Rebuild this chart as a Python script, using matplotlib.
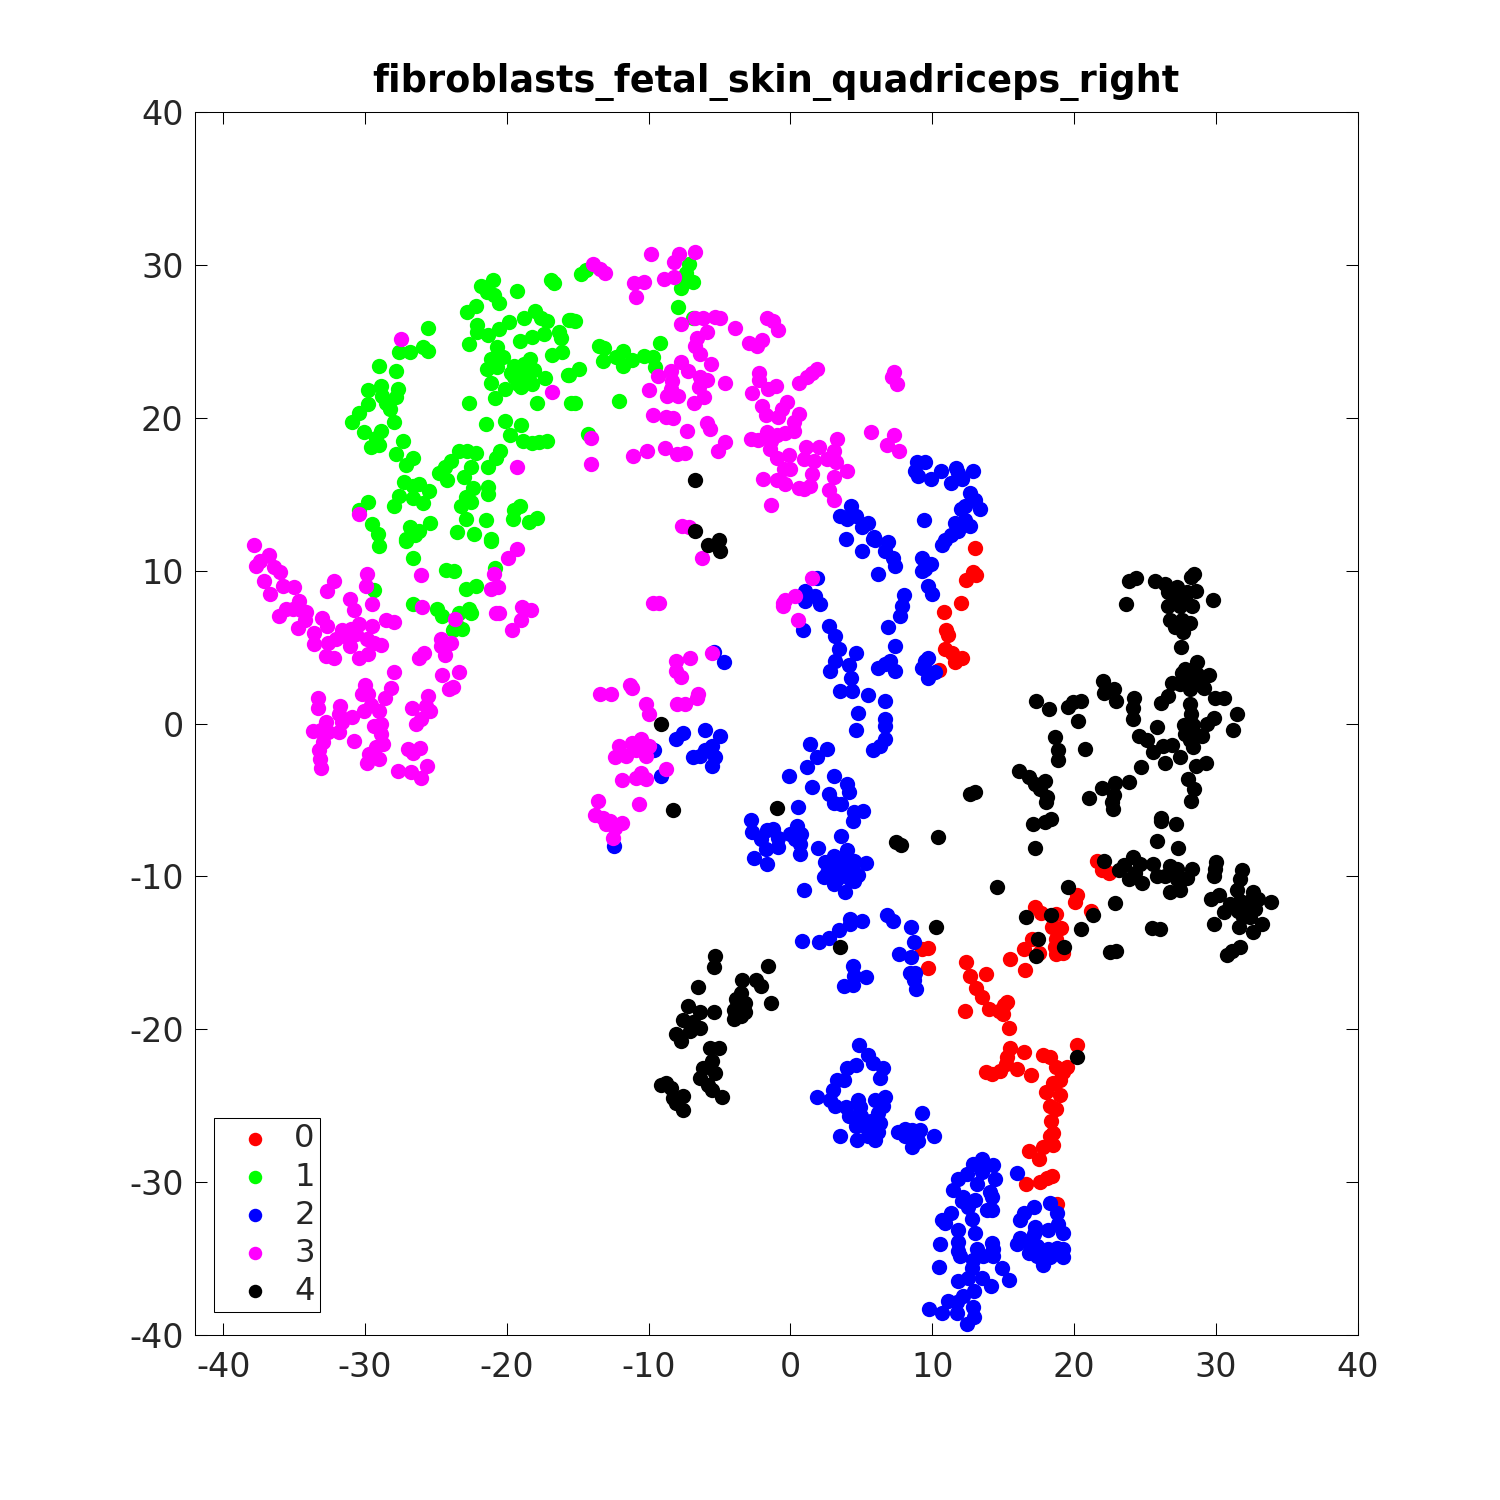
import matplotlib
matplotlib.use("Agg")
import matplotlib.pyplot as plt
import numpy as np

plt.rcParams["axes.unicode_minus"] = False

title = "fibroblasts_fetal_skin_quadriceps_right"
labels = ["0", "1", "2", "3", "4"]
colors = ["#ff0000", "#00ff00", "#0000ff", "#ff00ff", "#000000"]
ticks = [-40, -30, -20, -10, 0, 10, 20, 30, 40]

cluster_0 = [
(13,11.5),(12.9,9.9),(13.1,9.7),(12.4,9.4),(12,7.9),(10.8,7.3),(11,6.1),(11.1,5.8),(10.9,4.9),(11.4,4.6),(12.1,4.3),(11.6,4),(10.5,3.5),
(21.6,-9),(21.95,-9.6),(22.45,-9.75),(20.2,-11.2),(20.1,-11.65),(21.2,-12.25),(17.25,-12),(17.65,-12.4),(18.7,-12.45),(18.45,-13.3),(19.1,-13.4),(18.75,-14.1),(18.65,-14.65),(19.25,-15),(17.05,-14.1),(16.45,-14.75),(17.5,-15),(15.5,-15.4),(16.55,-16.15),(18.75,-15.05),
(9.3,-14.75),(9.7,-14.7),(9.7,-16),(12.4,-15.6),(12.7,-16.5),(13.8,-16.4),(13.1,-17.3),(13.5,-17.9),(12.3,-18.8),(14,-18.7),(14.7,-18.8),(15.1,-18.4),(15.3,-18.2),(15,-19),(15.4,-19.9),
(20.2,-21),(15.5,-21.2),(15.3,-21.8),(16.5,-21.5),(17.8,-21.7),(18.3,-21.8),(15.2,-22.3),(14.8,-22.7),(16,-22.6),(13.8,-22.8),(14.2,-22.9),(17,-23),(18.7,-22.5),(19.2,-22.8),(19.5,-22.5),(19,-23.3),(18.5,-23.5),(18,-24.1),(19,-24.3),(18.3,-25),(18.7,-25.2),(18.4,-26),(18.5,-26.8),(18.3,-26.95),(18.5,-27.6),(17.85,-27.7),(16.8,-27.95),(17.5,-28.5),(16.65,-30.15),(17.6,-30),(18.45,-29.6),(18.1,-29.7),(18.8,-31.4),
]

cluster_1 = [
(-21,29),(-21.8,28.65),(-21.4,28.2),(-20.9,28),(-20.55,27.5),(-19.3,28.3),(-16.9,29),(-16.7,28.8),(-22.2,27.3),(-22.8,26.9),(-22.1,26.1),(-22.1,25.6),(-22.7,24.8),(-21.3,25.4),(-20.55,25.8),(-19.85,26.25),(-20.7,24.65),(-18.8,26.5),(-18,27),(-17.6,26.5),(-17.15,26.35),(-19.1,25.05),(-18.2,25.3),(-16.3,25.6),(-16.2,25.2),(-16.1,24.3),(-16.8,24.1),(-15.6,26.4),(-17.4,25.5),(-20.3,24),(-21.15,23.85),(-21.4,23.2),(-20.7,23.35),(-21.1,22.3),(-20.1,21.9),(-20.85,21.3),(-22.7,21),(-17.9,21),(-15.5,21),(-17.3,22.6),(-15.7,22.8),
(-19.5,23.4),(-18.8,23.5),(-18.4,23.85),(-18.1,23.1),(-19.5,22.65),(-18.8,22.65),(-18.2,22.2),(-19,22),(-19.7,22.9),(-19.25,22.2),(-19,23.1),(-18.55,22.9),
(-21.45,19.6),(-20.1,19.8),(-19,19.55),(-19.75,18.9),(-18.85,18.5),(-18.2,18.35),(-17.2,18.5),(-17.7,18.4),
(-25.6,25.9),(-25.95,24.6),(-25.6,24.4),(-26.8,24.3),(-27.6,24.3),(-29,23.4),(-27.8,23.05),(-28.9,22.1),(-27.65,21.9),(-29.8,21.8),(-28.8,21.45),(-27.8,21.35),(-29.8,20.9),(-28.5,21),(-28.25,20.6),(-30.4,20.3),(-30.9,19.7),(-27.95,19.7),(-30.1,19.1),(-28.9,19.15),(-29.25,18.7),(-29.6,18.1),(-29,18.2),(-27.3,18.5),(-27.8,17.6),(-26.6,17.35),(-27.1,16.9),(-22.2,17.7),(-22.8,17.85),(-23.4,17.85),(-23.95,17.2),(-24.4,16.8),(-24.8,16.4),(-24.2,15.9),(-22.5,16.8),(-23,16.1),(-22.4,15.4),(-21.35,15.5),(-21.35,15),(-21.3,16.8),(-20.8,17.4),(-20.5,17.8),
(-27.25,15.8),(-26.2,15.7),(-26.65,15.55),(-25.5,15.2),(-27.6,14.9),(-26.65,14.75),(-25.95,14.4),(-27.95,14.2),(-29.8,14.5),(-30.4,14),(-22.9,14.8),(-23.25,14.2),(-22.9,13.4),(-22.55,14.5),(-21.45,13.3),(-19.1,14.2),(-19.6,13.35),(-19.5,14),(-17.85,13.45),(-18.45,13.2),(-29.5,13.05),(-29.1,12.4),(-25.4,13.1),(-26.8,12.85),(-26.2,12.6),(-27.1,12.1),(-26.5,12.3),(-23.5,12.5),(-22.3,12.4),(-21.15,12.1),
(-29,11.6),(-27.15,11.95),(-21.15,11.95),(-26.6,10.85),(-24.3,10.05),(-23.75,9.95),(-20.85,10.2),(-22.9,8.8),(-22.15,9),(-29.4,8.75),(-26.6,7.8),(-24.9,7.5),(-24.55,7.05),(-22.65,7.5),(-22.55,7.2),(-23.35,7.2),(-23.8,6.1),(-23.15,6.2),(-23.6,6.5),
(-14.8,29.4),(-14.45,29.7),(-7.15,30.05),(-7.4,29.5),(-6.9,28.85),(-7.7,28.5),(-7.3,29),(-7.9,27.25),(-6.9,26.55),(-15.45,26.4),(-15.2,26.3),(-13.5,24.7),(-13.15,24.55),(-13.2,23.7),(-12.3,23.95),(-11.8,24.4),(-11.8,23.4),(-11.15,23.75),(-10.35,24.05),(-9.7,24),(-9.2,24.9),(-9.55,23.3),(-14.9,23.2),(-15.65,22.8),(-15.2,21),(-12.1,21.1),(-14.3,18.95),
]

cluster_2 = [
(4.3,14.25),(3.5,13.55),(4,13.4),(4.6,13.6),(5.05,12.85),(5.5,13.1),(3.9,12.1),(5.9,12.2),(6.9,11.9),
(8.9,17.1),(9.5,17.1),(9,16.2),(9.9,16),(8.8,16.5),(10.6,16.55),(11.7,16.7),(12.9,16.55),(11.3,15.75),(12.1,16),(11.85,16.4),(12.7,15.1),(12.3,14.25),(13,14.6),(13.4,14.05),(12,14.05),(9.4,13.3),(11.6,13.1),(12.3,13.3),(11.85,12.6),(12.7,12.95),(10.9,12),(11.3,12.3),(10.7,11.65),
(6,12),(5.05,11.3),(5.85,12.1),(6.7,11.3),(7.2,10.8),(6.2,9.8),(7.4,10.3),(9.3,10.8),(9.5,10.1),(9.3,10),(9.9,10.45),(9.7,9),(10,8.5),(8,8.4),(7.9,7.7),(7.75,7.05),(6.85,6.3),(7.4,5.1),(6.7,3.9),(6.15,3.65),(7.05,4.1),(7.4,3.45),(9.5,4.1),(9.7,4.3),(9.3,3.6),(9.7,3),(10.2,3.35),
(1.9,9.5),(1.05,8.7),(1.75,8.35),(1.05,8),(2.1,7.85),(.9,6.15),(2.7,6.4),(3.15,5.75),(3.4,4.9),(4.6,4.6),(3.15,4.1),(2.8,3.45),(4.1,3.8),(4.25,3),(4.35,2.15),(3.5,2.15),(4.8,.7),(5.5,1.85),(6.7,1.5),(4.6,-.45),(6.7,.3),(6.7,-.15),(6.7,-1),(6.35,-1.45),(5.85,-1.75),
(-5.4,4.7),(-4.7,4.05),(-9.65,-1.75),(-9.1,-3.45),(-12.45,-8),(-8.1,-1),(-7.55,-.65),(-6,-.45),(-4.95,-.8),(-6.85,-2.2),(-6.35,-2.1),(-6,-1.75),(-5.5,-1.45),(-5.5,-2.75),(-5.3,-2.2),
(1.4,-1.35),(2.6,-1.65),(1.85,-2.2),(1.2,-2.85),(-.1,-3.45),(1.55,-4.15),(3.1,-3.45),(4,-3.95),(4.15,-4.5),(2.75,-4.6),(3.05,-5.2),(3.55,-5.25),(.55,-5.45),(4.45,-5.8),(5.15,-5.75),(4.4,-6.35),
(-2.8,-6.3),(-2.7,-7.1),(-2.1,-7.55),(-1.65,-6.95),(-1.2,-6.9),(-.85,-7.5),(-1.75,-8.2),(-.85,-8.1),(-2.6,-8.8),(-1.65,-9.2),(0,-7.2),(.45,-6.7),(.75,-7.25),(.35,-7.55),(.7,-7.85),(.65,-8.55),
(1.95,-8.15),(3.6,-7.35),(4,-8.3),(2.45,-9.05),(3.05,-8.65),(3.75,-8.85),(4.45,-9),(5.3,-9.15),(2.8,-9.5),(3.4,-9.2),(4.1,-9.4),(4.8,-9.9),(2.35,-10.05),(3.05,-10.5),(3.65,-9.85),(4.2,-10.15),(3.05,-9.95),(3.85,-11),(.95,-10.9),(3.3,-8.9),(3.6,-9.5),(4.4,-9.6),(2.6,-9.8),(3.3,-10.2),(4.5,-10.3),(2.9,-9.1),
(.8,-14.25),(2.05,-14.3),(2.7,-14),(3.4,-13.5),(4.2,-12.8),(4.2,-13.1),(5.05,-12.9),(6.8,-12.5),(7.2,-12.95),(8.5,-13.3),(8.7,-14.3),(7.65,-15.05),(8.5,-15.3),(8.4,-16.3),(8.8,-16.3),(8.7,-16.8),(8.85,-17.35),(4.4,-15.85),(4.45,-16.5),(5.35,-16.55),(3.75,-17.15),(4.4,-17.1),
(4.85,-21.05),(5.5,-21.7),(5.85,-22.2),(6.55,-22.55),(6.35,-23.2),(4.6,-22.35),(4,-22.55),(3.75,-23.35),(3.3,-23.35),(3,-24),(1.9,-24.45),(2.8,-24.65),(3.15,-25),(3.9,-25.1),(4.8,-24.65),(4.9,-25.1),(6,-24.65),(6.7,-24.45),(4.1,-25.65),(4.95,-25.65),(6.2,-25.45),(6.5,-25),(4.6,-26.3),(5.65,-26),(6.35,-26.1),(3.5,-27),(4.7,-27.25),(5.5,-26.95),(6,-27.25),(6.2,-26.75),(5.3,-26.4),
(7.6,-26.75),(8.1,-26.5),(8.6,-26.6),(9.15,-26.6),(9.3,-25.5),(8.1,-26.95),(8.6,-27.7),(9,-27.3),(10.1,-26.95),
(13.5,-28.5),(12.9,-28.8),(14.3,-28.9),(13.5,-29.35),(12.45,-29.45),(11.85,-29.8),(14.4,-29.8),(13.15,-30.15),(11.5,-30.5),(14.05,-30.65),(14.2,-30.95),(12.2,-31),(13.05,-31.2),(12.1,-31.25),(12.55,-31.6),(13.85,-31.8),(14.2,-31.8),(11.3,-32),(10.7,-32.45),(10.9,-32.7),(12.8,-32.4),(11.85,-33.15),(13.05,-33.35),(11.85,-33.9),(10.55,-34.05),(14.2,-33.95),(11.8,-34.5),(11.95,-34.8),(13.15,-34.4),(14.3,-34.35),(14.3,-34.85),(13.6,-34.85),(12.85,-35.1),(10.5,-35.55),(12.8,-35.6),(14.9,-35.6),(15.4,-36.4),(13.5,-36.3),(14.15,-36.8),(11.8,-36.5),(12.55,-36.3),(12.95,-37.1),(12.2,-37.45),(11.15,-37.8),(9.75,-38.3),(10.7,-38.55),(11.75,-38.55),(12.9,-38.15),(12.95,-38.85),(12.45,-39.3),(11.75,-37.85),
(16,-29.4),(18.3,-31.35),(17.2,-31.6),(18.8,-32),(16.5,-32.05),(16.2,-32.5),(18.9,-32.75),(17.25,-32.95),(18.2,-33.1),(19.2,-33.3),(17.15,-33.4),(16.2,-33.65),(16,-34.05),(16.8,-34),(17.4,-34.15),(16.8,-34.65),(17.4,-34.8),(18.2,-34.4),(18.8,-34.3),(19.2,-34.4),(19.2,-34.9),(17.85,-35.4),(18.3,-34.9),
]

cluster_3 = [
(-37.85,11.65),(-36.75,11.05),(-37.45,10.65),(-37.7,10.3),(-36.4,10.25),(-36,9.9),(-37.15,9.35),(-35.8,9),(-35,8.9),(-36.7,8.5),(-34.65,8),(-35.6,7.5),(-36.1,7.05),(-35.1,7.5),(-34.2,7.3),(-34.25,6.8),(-34.75,6.25),(-34.5,7.4),(-32.2,9.35),(-32.7,8.7),(-33.05,6.9),(-32.7,6.35),(-33.6,5.9),(-33.6,5.2),(-32.6,5.25),(-32.05,5.55),(-31.6,6.1),(-31,6.2),(-30.4,6.5),(-31.25,5.65),(-30.65,5.85),(-31.1,5.1),(-31.1,8.15),(-30.75,7.4),(-29.85,9.75),(-29.95,9),(-29.5,7.8),(-29.5,6.4),(-28.55,6.8),(-27.95,6.65),(-29.85,5.5),(-29.4,5.3),(-28.9,5.15),(-32.75,4.4),(-32.2,4.3),(-30.45,4.3),(-29.8,4.55),(-27.95,3.35),(-28.2,2.3),(-28.6,1.7),
(-26.05,9.7),(-26,7.65),(-23.65,6.85),(-20.9,9.75),(-21.15,8.8),(-20.65,8.9),(-19.3,11.4),(-19.9,10.8),(-20.8,7.2),(-20.55,7.2),(-18.95,7.6),(-18.3,7.4),(-19,6.8),(-19.65,6.1),(-24.65,5.5),(-24.65,5.1),(-23.95,5.25),(-24.4,4.45),(-25.85,4.6),(-26.2,4.3),(-24.6,3.2),(-23.4,3.35),(-23.8,2.4),(-24.1,2.25),
(-30,2.55),(-30.2,1.95),(-29.8,1.95),(-33.3,1.65),(-33.3,1),(-31.8,1.15),(-31.85,.65),(-30.9,.45),(-30.05,.85),(-29.6,1.2),(-29,.85),(-32.75,.1),(-31.6,.1),(-33.7,-.5),(-33.1,-.45),(-32.65,-.55),(-31.85,-.55),(-29.35,-.15),(-28.9,-.05),(-28.9,-.7),(-30.75,-1.15),(-28.75,-1.35),(-29.25,-1.55),(-33.25,-1.75),(-33.15,-2.3),(-33.1,-2.9),(-33,-1.2),(-29.7,-2),(-29.9,-2.55),(-29.05,-2.3),(-25.6,1.8),(-26.7,1),(-25.4,.85),(-25.7,1.15),(-26.05,.3),(-26.4,0),(-26.95,-1.65),(-26.1,-1.6),(-26.6,-1.95),(-25.65,-2.8),(-27.7,-3.1),(-26.75,-3.15),(-26.05,-3.55),
(-27.5,25.15),(-30.45,13.7),(-19.3,16.8),(-16.8,21.7),
(-9.8,30.7),(-6.75,30.85),(-7.85,30.7),(-8.2,30.2),(-13.9,30.05),(-13.45,29.75),(-13.05,29.5),(-11.05,28.8),(-10.3,28.85),(-8.9,29.1),(-8.2,29.2),(-10.9,27.9),(-6.7,26.5),(-6.2,26.55),(-5.3,26.6),(-5,26.5),(-7.7,26.15),(-3.9,25.9),(-1.65,26.5),(-1.2,26.35),(-.9,25.75),(-5.9,25.6),(-6.6,25.25),(-6.7,24.7),(-6.35,24.2),(-2,25.1),(-2.95,24.9),(-2.35,24.7),(-5.6,23.5),(-7.7,23.65),(-7.2,23.05),(-8.4,23.05),(-9.35,22.75),(-8.35,22.4),(-6.35,22.65),(-5.9,22.45),(-6.45,22),(-4.6,22.25),(-9.95,21.8),(-8.45,21.9),(-8.7,21.45),(-7.95,21.45),(-6.1,21.35),(-6.8,21),(-2.2,22.9),(-2.2,22.5),(1.9,23.2),(1.5,22.9),(1.2,22.65),(.6,22.25),(-1,22.05),(-1.55,21.9),(-2.7,21.6),(7.3,23),(7.15,22.65),(7.5,22.2),(-2,20.75),(-1.75,20.15),(-.25,21.05),(-.6,20.6),(-.85,20.05),(.6,20.25),(.25,19.7),(-9.7,20.15),(-8.8,20.05),(-8.25,20),(-5.85,19.65),(-5.7,19.25),(-7.3,19.15),(-1.65,19.1),(.25,19.15),(-.35,19),(-.95,18.85),(-1.35,18.5),(-2.75,18.6),(-2.3,18.55),(5.7,19.1),(7.3,18.85),(6.8,18.2),(7.65,17.85),(-4.65,18.4),(-5.1,17.85),(-8.85,18),(-10.1,17.8),(-11.1,17.5),(-8,17.6),(-7.45,17.7),(-1.45,17.95),(-.95,17.4),(-.1,17.55),(1.1,18.1),(2,18.1),(3.3,18.6),(.95,17.3),(1.65,17.2),(2.6,17.3),(3.05,17.85),(3.2,17.1),(-.45,16.65),(0,16.65),(1.55,16.35),(4,16.55),(3.05,16.1),(-1.9,16),(-.95,15.95),(-.4,15.7),(1.4,15.55),(.95,15.35),(.6,15.4),(2.75,15.25),(3.1,14.6),(-1.35,14.3),(-14.1,18.7),(-14.1,16.95),(-7.65,12.9),(-7.15,12.85),
(-9.7,7.9),(-9.25,7.9),(-8.1,4.1),(-7.05,4.3),(-8.1,3.45),(-7.75,3.05),(-5.5,4.6),(-11.3,2.55),(-11.15,2.3),(-13.4,1.95),(-12.65,1.95),(-10.2,1.3),(-8,1.3),(-7.45,1.3),(-6.5,1.95),(-6.6,1.65),(-10,.65),(-10.55,-1),(-11.15,-1.3),(-12.1,-1.45),(-10,-1.45),(-12.35,-2.2),(-10.9,-1.75),(-11.6,-2.1),(-10.2,-2.1),(-8.8,-2.95),(-10.55,-3.25),(-10.2,-3.6),(-11.85,-3.7),(-10.9,-3.55),(-13.6,-5.1),(-10.65,-5.25),(-13.75,-6),(-13.2,-6.2),(-12.7,-6.35),(-11.85,-6.5),(-12.35,-6.85),(-12.55,-7.5),(-13,-6.55),
(-.35,8.05),(-.55,7.7),(.35,8.35),(1.5,9.55),(.55,6.8),(-.5,7.9),(-6.25,10.8),
]

cluster_4 = [
(28.45,9.8),(28.25,9.6),(24.4,9.5),(23.85,9.3),(25.75,9.3),(26.4,9.15),(27.25,8.9),(28.6,8.65),(27.95,8.6),(26.65,8.6),(27.25,8.25),(27.85,8.15),(23.65,7.85),(29.8,8.05),(26.65,7.7),(27.5,7.7),(28.35,7.7),(26.75,6.8),(27.6,6.75),(28.2,6.55),(27.15,6.3),(27.7,6),(27.5,6.5),(27.55,5),
(28.65,4.05),(27.85,3.55),(27.6,3.3),(28.65,3.25),(29.55,3.2),(28.4,2.9),(26.95,2.65),(27.5,2.6),(29.15,2.35),(28.2,2.25),(28.75,2.6),(26.65,1.8),(26.15,1.35),(29.95,1.7),(30.6,1.7),(28.15,1.25),(28.25,.6),(31.5,.6),(29.85,.35),(29.35,-.05),(31.25,-.45),(27.75,-.1),(28.4,-.1),(27.85,-.7),(28.55,-.7),(29,-.8),(28.2,-1.1),(28.4,-1.55),
(25.85,-.25),(24.6,-.8),(25.15,-1.05),(25.55,-1.85),(26.3,-1.5),(26.9,-1.4),(27.45,-2.2),(26.45,-2.6),(24.75,-2.85),(28.6,-2.75),(29.3,-2.6),
(22.05,2.8),(22.1,2),(22.8,2.25),(23,1.5),(24.25,1.7),(24.15,1),(24.15,.3),(17.35,1.45),(18.25,.95),(19.55,1.05),(19.95,1.4),(20.5,1.5),(20.25,.15),(18.65,-.9),(18.9,-1.75),(18.85,-2.4),(20.75,-1.65),
(16.15,-3.1),(16.8,-3.5),(17.95,-3.75),(17.25,-3.95),(17.6,-4.3),(18.1,-4.8),(18.05,-5.15),(23.85,-3.8),(22.9,-3.9),(21.95,-4.2),(22.8,-4.7),(22.65,-5.15),(22.75,-5.6),(21.05,-4.9),(28.05,-3.6),(28.45,-4.3),(28.25,-5.1),
(18.35,-6.25),(17.95,-6.45),(17.1,-6.6),(17.25,-8.15),(26.15,-6.15),(26.15,-6.4),(27.2,-6.6),(25.85,-7.7),(27.35,-8.15),(22.1,-9),
(24.15,-8.7),(23.5,-9.25),(23.15,-9.6),(23.9,-10.15),(24.65,-9.2),(24.3,-9.75),(24.8,-10.45),(25.6,-9.2),(25.85,-9.95),(26.8,-9.3),(27.25,-9.5),(28.3,-9.5),(26.45,-9.95),(27.95,-10.1),(27.25,-10.15),(27.5,-10.9),(26.8,-11.05),(30.05,-9.05),(29.85,-9.95),(29.95,-9.5),
(31.85,-9.55),(31.7,-10.15),(31.5,-10.9),(30.2,-11.2),(29.7,-11.45),(32.65,-11.05),(33.9,-11.65),(31,-11.8),(31.7,-11.6),(32.4,-11.6),(33,-11.5),(30.6,-12.35),(31.6,-12.25),(32.2,-12.15),(32.75,-12.15),(31.95,-12.65),(32.4,-12.65),(33.25,-13.1),(29.9,-13.1),(31.65,-13.3),(32.65,-13.65),(31.7,-14.65),(31.15,-14.9),(30.8,-15.15),
(14.6,-10.7),(19.6,-10.7),(22.9,-11.75),(21.35,-12.55),(18.4,-12.5),(16.65,-12.65),(20.5,-13.45),(25.5,-13.35),(26.05,-13.45),(17.45,-14.1),(19.3,-14.65),(17.3,-15.2),(22.55,-14.95),(22.95,-14.85),
(-6.7,15.9),(-6.7,12.6),(-5.8,11.65),(-5.05,12),(-4.95,11.3),(-9.15,0),(-8.25,-5.65),(12.7,-4.6),(13,-4.5),
(-.95,-5.55),(7.45,-7.75),(7.8,-7.95),(10.4,-7.4),(10.3,-13.3),(3.5,-14.65),
(-5.35,-15.2),(-5.4,-15.95),(-6.5,-17.25),(-1.6,-15.85),(-3.45,-16.8),(-2.45,-16.8),(-2.1,-17.15),(-3.5,-17.65),(-3.85,-18),(-1.4,-18.3),(-3.2,-18.3),(-4,-18.75),(-3.2,-18.9),(-4,-19.3),(-3.5,-19.15),(-7.2,-18.45),(-6.35,-18.9),(-5.4,-18.9),(-7.55,-19.4),(-6.85,-19.55),(-6.35,-19.95),(-8.1,-20.3),(-7.05,-20.1),(-7.75,-20.75),(-5.65,-21.2),(-5.05,-21.2),(-5.5,-22.05),(-6.15,-22.55),(-5.3,-22.85),(-6.35,-23.2),(-5.8,-23.65),(-9.15,-23.65),(-8.8,-23.5),(-8.45,-23.85),(-7.55,-24.35),(-8.3,-24.5),(-8.1,-24.85),(-7.6,-25.3),(-5.5,-24),(-4.8,-24.45),(20.2,-21.8),
]

clusters = [cluster_0, cluster_1, cluster_2, cluster_3, cluster_4]

fig = plt.figure(figsize=(10, 10), dpi=150)
ax = fig.add_axes([0.13, 0.11, 0.775, 0.8153])
for pts, c, lab in zip(clusters, colors, labels):
    arr = np.array(pts)
    ax.scatter(arr[:, 0], arr[:, 1], s=54, c=c, linewidths=0, label=lab)

ax.set_xlim(-42, 40)
ax.set_ylim(-40, 40)
ax.set_xticks(ticks)
ax.set_yticks(ticks)
ax.tick_params(direction="in", top=True, right=True, length=5.8, width=0.5,
               labelsize=16, labelcolor="#262626")
ax.tick_params(axis="x", pad=7.5)
ax.tick_params(axis="y", pad=5.5)
for s in ax.spines.values():
    s.set_linewidth(0.5)
ax.set_title(title, fontsize=17.6, fontweight="bold", pad=9.5)

leg = ax.legend(loc="lower left", bbox_to_anchor=(0.0163, 0.0188), borderaxespad=0,
                fontsize=15.5, fancybox=False, framealpha=1, edgecolor="black",
                labelspacing=0.22, handletextpad=0.13, borderpad=0.16, handlelength=2.2,
                markerscale=0.88, scatterpoints=1)
leg.get_frame().set_linewidth(0.5)
for t in leg.get_texts():
    t.set_color("#262626")

fig.savefig("out.png", dpi=150)
